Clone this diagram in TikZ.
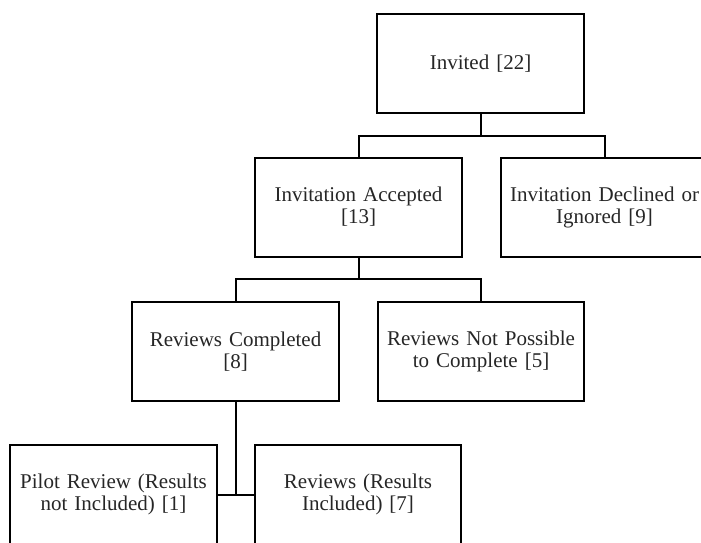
\documentclass[tikz,border=0pt]{standalone}
\usepackage{fontspec}
\setmainfont{Liberation Serif}
\tikzset{
  stagebox/.style={draw,line width=2pt,rectangle,minimum width=201pt,minimum height=99pt,
    text width=200pt,align=center,font=\fontsize{21}{22}\selectfont,text=black!85},
  link/.style={line width=2pt}
}
\begin{document}
\begin{tikzpicture}[x=1pt,y=-1pt]
\useasboundingbox (0,0) rectangle (701,542);
\clip (0,0) rectangle (701,542);
\node[stagebox](inv) at (480.5,63.5){Invited [22]};
\node[stagebox](acc) at (358.5,207){Invitation Accepted\\\relax[13]};
\node[stagebox](dec) at (604.5,207){Invitation Declined or\\Ignored [9]};
\node[stagebox](comp) at (235.5,351.5){Reviews Completed\\\relax[8]};
\node[stagebox](nopos) at (481,351.5){Reviews Not Possible\\to Complete [5]};
\node[stagebox](pil) at (113.5,494.5){Pilot Review (Results\\not Included) [1]};
\node[stagebox](res) at (358,494.5){Reviews (Results\\Included) [7]};
\draw[link](inv.south)--++(0,22)-|(acc.north);
\draw[link](inv.south)--++(0,22)-|(dec.north);
\draw[link](acc.south)--++(0,21)-|(comp.north);
\draw[link](acc.south)--++(0,21)-|(nopos.north);
\draw[link](comp.south)|-(pil.east);
\draw[link](comp.south)|-(res.west);
\end{tikzpicture}
\end{document}
